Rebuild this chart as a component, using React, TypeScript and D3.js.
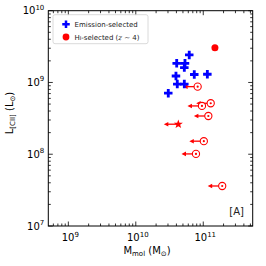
import React from 'react'
import * as d3 from 'd3'

// emission-selected sources (blue plus)
const emisMmol = [3.03e10, 4.04e10, 5.36e10, 6.2e10, 5.24e10, 3.94e10, 4.12e10, 5.24e10, 7.36e10, 1.15e11]
const emisLcii = [7.1e8, 1.85e9, 1.85e9, 2.42e9, 1.61e9, 1.23e9, 9.5e8, 9.5e8, 1.29e9, 1.3e9]

// HI-selected detection
const hiDetMmol = [1.49e11]
const hiDetLcii = [3.05e9]

// HI-selected upper limits on Mmol (open circles)
const hiLimMmol = [8.26e10, 1.29e11, 9.57e10, 1.19e11, 1.02e11, 7.8e10, 1.91e11]
const hiLimLcii = [8.75e8, 5.13e8, 4.71e8, 3.41e8, 1.52e8, 1.01e8, 3.61e7]

// star with upper limit
const starMmol = [4.27e10]
const starLcii = [2.62e8]

const xMajor = [1e9, 1e10, 1e11]
const yMajor = [1e7, 1e8, 1e9, 1e10]

const W = 266, H = 266
const L = 48.3, R = 252.7, T = 10.7, B = 226
const FONT = 'DejaVu Sans, sans-serif'
const RED = '#ff0000'
const BLUE = '#0000ff'

const x = d3.scaleLog().domain([10 ** 8.703, 10 ** 11.733]).range([L, R])
const y = d3.scaleLog().domain([1e7, 1e10]).range([B, T])

function plusPath(s: number) {
  const a = s / 2, b = s / 6
  return `M${-b},${-a}H${b}V${-b}H${a}V${b}H${b}V${a}H${-b}V${b}H${-a}V${-b}H${-b}Z`
}
function starPath(r: number) {
  const pts: string[] = []
  for (let i = 0; i < 10; i++) {
    const rr = i % 2 === 0 ? r : r * 0.4
    const ang = -Math.PI / 2 + i * Math.PI / 5
    pts.push(`${rr * Math.cos(ang)},${rr * Math.sin(ang)}`)
  }
  return 'M' + pts.join('L') + 'Z'
}

function Arrow({ cx, cy }: { cx: number, cy: number }) {
  const len = 14.5
  const x0 = cx - len
  return (
    <g>
      <line x1={cx} y1={cy} x2={x0 + 3} y2={cy} stroke={RED} strokeWidth={1.3} />
      <path d={`M${x0},${cy}L${x0 + 4.5},${cy - 2.3}L${x0 + 4.5},${cy + 2.3}Z`} fill={RED} />
    </g>
  )
}

function TickLabel({ v, px, py, anchor }: { v: number, px: number, py: number, anchor: string }) {
  const e = Math.round(Math.log10(v))
  return (
    <text x={px} y={py} fontFamily={FONT} fontSize={10} textAnchor={anchor} fill="#000">
      10<tspan fontSize={7} dy={-4.5}>{e}</tspan>
    </text>
  )
}

export default function App() {
  const xMinor = x.ticks().filter(t => !xMajor.includes(t))
  const yMinor = y.ticks().filter(t => !yMajor.includes(t))
  const maj = 4.5, min = 2.5

  return (
    <svg width={W} height={H} style={{ position: 'absolute', left: 0, top: 0, background: '#fff' }}>
      <rect x={0} y={0} width={W} height={H} fill="#fff" />
      {/* ticks */}
      <g stroke="#000" strokeWidth={0.8}>
        {xMajor.map((t, i) => (
          <g key={'xM' + i}>
            <line x1={x(t)} x2={x(t)} y1={B} y2={B - maj} />
            <line x1={x(t)} x2={x(t)} y1={T} y2={T + maj} />
          </g>
        ))}
        {xMinor.map((t, i) => (
          <g key={'xm' + i}>
            <line x1={x(t)} x2={x(t)} y1={B} y2={B - min} />
            <line x1={x(t)} x2={x(t)} y1={T} y2={T + min} />
          </g>
        ))}
        {yMajor.map((t, i) => (
          <g key={'yM' + i}>
            <line x1={L} x2={L + maj} y1={y(t)} y2={y(t)} />
            <line x1={R} x2={R - maj} y1={y(t)} y2={y(t)} />
          </g>
        ))}
        {yMinor.map((t, i) => (
          <g key={'ym' + i}>
            <line x1={L} x2={L + min} y1={y(t)} y2={y(t)} />
            <line x1={R} x2={R - min} y1={y(t)} y2={y(t)} />
          </g>
        ))}
      </g>
      {xMajor.map((t, i) => <TickLabel key={'xl' + i} v={t} px={x(t) + 2} py={B + 15} anchor="middle" />)}
      {yMajor.map((t, i) => <TickLabel key={'yl' + i} v={t} px={L - 4} py={y(t) + 3.5} anchor="end" />)}

      {/* arrows */}
      {hiLimMmol.map((m, i) => <Arrow key={'a' + i} cx={x(m)} cy={y(hiLimLcii[i])} />)}
      {starMmol.map((m, i) => <Arrow key={'sa' + i} cx={x(m)} cy={y(starLcii[i])} />)}

      {/* emission-selected */}
      {emisMmol.map((m, i) => (
        <path key={'e' + i} d={plusPath(8.5)} transform={`translate(${x(m)},${y(emisLcii[i])})`} fill={BLUE} />
      ))}
      {hiDetMmol.map((m, i) => (
        <circle key={'d' + i} cx={x(m)} cy={y(hiDetLcii[i])} r={3.5} fill={RED} />
      ))}
      {hiLimMmol.map((m, i) => (
        <g key={'c' + i}>
          <circle cx={x(m)} cy={y(hiLimLcii[i])} r={3.6} fill="#fff" stroke={RED} strokeWidth={1.1} />
          <circle cx={x(m)} cy={y(hiLimLcii[i])} r={1.1} fill={RED} />
        </g>
      ))}
      {starMmol.map((m, i) => (
        <path key={'s' + i} d={starPath(4.8)} transform={`translate(${x(m)},${y(starLcii[i])})`} fill={RED} />
      ))}

      {/* frame */}
      <rect x={L} y={T} width={R - L} height={B - T} fill="none" stroke="#000" strokeWidth={1} />

      {/* legend */}
      <rect x={53} y={14.7} width={95} height={29} rx={2} fill="#fff" fillOpacity={0.8} stroke="#d0d0d0" strokeWidth={0.8} />
      <path d={plusPath(7.5)} transform="translate(66,24.3)" fill={BLUE} />
      <circle cx={66} cy={37} r={3.4} fill={RED} />
      <text x={74.5} y={26.8} fontFamily={FONT} fontSize={7} fill="#222">Emission-selected</text>
      <text x={74.5} y={39.5} fontFamily={FONT} fontSize={7} fill="#222">
        H<tspan fontSize={5.2}>I</tspan>-selected (<tspan fontFamily="DejaVu Serif, serif" fontStyle="italic">z</tspan> ∼ 4)
      </text>

      <text x={244} y={214.5} fontFamily={FONT} fontSize={10} textAnchor="end" fill="#222">[A]</text>

      {/* axis labels */}
      <text x={147} y={254} fontFamily={FONT} fontSize={10} textAnchor="middle" fill="#000">
        M<tspan fontSize={7} dy={2}>mol</tspan><tspan dy={-2}> (M</tspan><tspan fontSize={7} dy={2}>⊙</tspan><tspan dy={-2}>)</tspan>
      </text>
      <text transform="translate(12.5,113) rotate(-90)" fontFamily={FONT} fontSize={10} textAnchor="middle" fill="#000">
        L<tspan fontSize={7} dy={2}>[CII]</tspan><tspan dy={-2}> (L</tspan><tspan fontSize={7} dy={2}>⊙</tspan><tspan dy={-2}>)</tspan>
      </text>
    </svg>
  )
}
